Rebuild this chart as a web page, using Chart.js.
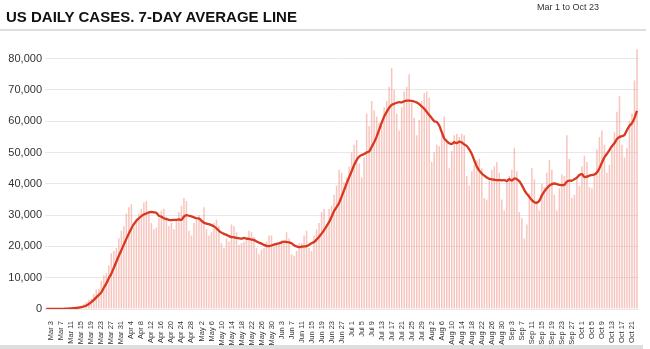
<!DOCTYPE html>
<html>
<head>
<meta charset="utf-8">
<script src="https://cdn.jsdelivr.net/npm/chart.js@4/dist/chart.umd.min.js"></script>
<style>
  html, body { margin: 0; padding: 0; background: #fff; }
  #wrap { position: relative; width: 650px; height: 349px; overflow: hidden; font-family: "Liberation Sans", Arial, sans-serif; }
  #title { position: absolute; left: 6px; top: 9px; font-size: 15px; line-height: 15px; font-weight: bold; color: #111; white-space: nowrap; }
  #range { position: absolute; left: 537px; top: 2px; font-size: 9px; line-height: 10px; color: #333; white-space: nowrap; }
  #rule { position: absolute; left: 0; top: 29px; width: 646px; height: 2px; background: #dedede; }
  #band { position: absolute; left: 0; top: 345px; width: 643px; height: 4px; background: #dedede; }
  canvas { position: absolute; left: 0; top: 0; }
</style>
</head>
<body>
<div id="wrap">
  <canvas id="c" width="650" height="349"></canvas>
  <div id="title">US DAILY CASES. 7-DAY AVERAGE LINE</div>
  <div id="range">Mar 1 to Oct 23</div>
  <div id="rule"></div>
  <div id="band"></div>
</div>
<script>
const dates = [
 "Mar 1","Mar 2","Mar 3","Mar 4","Mar 5","Mar 6","Mar 7","Mar 8","Mar 9","Mar 10","Mar 11","Mar 12","Mar 13","Mar 14","Mar 15","Mar 16","Mar 17","Mar 18","Mar 19","Mar 20","Mar 21","Mar 22","Mar 23","Mar 24","Mar 25","Mar 26","Mar 27","Mar 28","Mar 29","Mar 30","Mar 31",
 "Apr 1","Apr 2","Apr 3","Apr 4","Apr 5","Apr 6","Apr 7","Apr 8","Apr 9","Apr 10","Apr 11","Apr 12","Apr 13","Apr 14","Apr 15","Apr 16","Apr 17","Apr 18","Apr 19","Apr 20","Apr 21","Apr 22","Apr 23","Apr 24","Apr 25","Apr 26","Apr 27","Apr 28","Apr 29","Apr 30",
 "May 1","May 2","May 3","May 4","May 5","May 6","May 7","May 8","May 9","May 10","May 11","May 12","May 13","May 14","May 15","May 16","May 17","May 18","May 19","May 20","May 21","May 22","May 23","May 24","May 25","May 26","May 27","May 28","May 29","May 30","May 31",
 "Jun 1","Jun 2","Jun 3","Jun 4","Jun 5","Jun 6","Jun 7","Jun 8","Jun 9","Jun 10","Jun 11","Jun 12","Jun 13","Jun 14","Jun 15","Jun 16","Jun 17","Jun 18","Jun 19","Jun 20","Jun 21","Jun 22","Jun 23","Jun 24","Jun 25","Jun 26","Jun 27","Jun 28","Jun 29","Jun 30",
 "Jul 1","Jul 2","Jul 3","Jul 4","Jul 5","Jul 6","Jul 7","Jul 8","Jul 9","Jul 10","Jul 11","Jul 12","Jul 13","Jul 14","Jul 15","Jul 16","Jul 17","Jul 18","Jul 19","Jul 20","Jul 21","Jul 22","Jul 23","Jul 24","Jul 25","Jul 26","Jul 27","Jul 28","Jul 29","Jul 30","Jul 31",
 "Aug 1","Aug 2","Aug 3","Aug 4","Aug 5","Aug 6","Aug 7","Aug 8","Aug 9","Aug 10","Aug 11","Aug 12","Aug 13","Aug 14","Aug 15","Aug 16","Aug 17","Aug 18","Aug 19","Aug 20","Aug 21","Aug 22","Aug 23","Aug 24","Aug 25","Aug 26","Aug 27","Aug 28","Aug 29","Aug 30","Aug 31",
 "Sep 1","Sep 2","Sep 3","Sep 4","Sep 5","Sep 6","Sep 7","Sep 8","Sep 9","Sep 10","Sep 11","Sep 12","Sep 13","Sep 14","Sep 15","Sep 16","Sep 17","Sep 18","Sep 19","Sep 20","Sep 21","Sep 22","Sep 23","Sep 24","Sep 25","Sep 26","Sep 27","Sep 28","Sep 29","Sep 30",
 "Oct 1","Oct 2","Oct 3","Oct 4","Oct 5","Oct 6","Oct 7","Oct 8","Oct 9","Oct 10","Oct 11","Oct 12","Oct 13","Oct 14","Oct 15","Oct 16","Oct 17","Oct 18","Oct 19","Oct 20","Oct 21","Oct 22","Oct 23"
];

const dailyCases = [
 10,20,25,30,60,80,110,
 130,180,290,420,500,700,780,
 1000,1700,2200,2900,3300,4800,6200,
 6500,9000,10800,11500,14000,17800,18500,
 19500,22600,25000,26500,30500,32500,33500,
 26000,29000,30500,32000,34000,34500,30500,
 27500,25500,26000,29000,31500,32000,29500,
 26500,27500,25500,28500,31000,33000,35500,
 34500,25000,23500,27500,28500,30000,29000,
 32500,25500,23500,24500,27500,28500,26500,
 21000,19500,22500,21500,27000,26500,24500,
 20500,21000,21500,22500,25000,24500,23000,
 19500,17500,19000,19500,21500,23500,23500,
 20000,20500,20500,22000,21500,24500,22500,
 17500,17000,18500,21000,21000,23500,25000,
 19500,18500,23500,25500,27500,31000,32000,
 26500,32000,33000,36500,39500,44500,43500,
 40500,42000,45500,50000,52500,54000,46500,
 42000,48500,62500,58500,66500,63500,61500,
 59500,58500,64500,66500,71000,77000,70000,
 62500,57000,64500,69500,71000,75000,66000,
 61000,55500,60500,66500,69000,69500,67500,
 47000,50000,52500,52000,55500,61500,54500,
 45000,50500,55500,56000,55000,56000,55500,
 42500,39500,44000,46000,47500,48000,45000,
 35500,35000,41000,44500,45500,47000,43500,
 35000,31500,41000,42500,44500,51500,44000,
 31000,29000,22500,27000,37000,45000,41500,
 34500,31500,40000,39000,43500,47500,44500,
 36500,31500,38500,43000,42500,55500,48000,
 35500,36500,42500,39500,45500,49000,47000,
 39000,38500,43500,51000,55000,57000,52500,
 43500,46000,51000,56500,63000,68000,52500,
 48500,51500,60000,62500,73000,83000
];

const sevenDayAvg = [
 5,8,12,16,24,35,50,
 70,95,130,180,240,330,430,
 600,800,1100,1600,2200,2900,3700,
 4500,5300,6800,8200,9800,11300,13200,
 15100,17000,18800,20600,22400,24100,25700,
 27100,28200,29000,29700,30200,30500,30900,
 31000,30900,30700,29800,29500,29000,28700,
 28500,28400,28500,28500,28600,28500,29500,
 30000,29800,29600,29300,29000,28900,28200,
 27600,27300,27100,26800,26400,25800,25000,
 24400,24000,23700,23300,23000,22900,22700,
 22600,22500,22700,22500,22400,22200,22000,
 21600,21200,20900,20500,20200,20100,20300,
 20600,20800,21000,21300,21500,21400,21300,
 21000,20400,20000,19800,19900,20000,20100,
 20500,21000,21400,22200,23100,24100,25200,
 26500,27800,29500,31300,32600,33900,35900,
 38000,40100,42100,44000,46000,47600,48700,
 49200,49500,50000,50300,51800,53300,55100,
 57300,59500,61500,63000,64300,65200,65600,
 65900,66100,66000,66400,66600,66600,66500,
 66300,66000,65500,64700,64000,63000,62000,
 61000,60000,59800,58600,56500,54500,53600,
 53000,52700,53300,53000,53500,53200,52600,
 52100,51000,49500,47500,45500,44200,43300,
 42600,42000,41600,41400,41300,41200,41200,
 41100,41200,40900,41500,41000,41700,41500,
 40800,39600,38000,36800,35800,34800,34100,
 34000,34600,36300,37600,38600,39400,39900,
 40100,39900,39700,39600,39700,40700,41000,
 41000,41500,42000,42800,43100,42200,42300,
 42600,42800,43000,43600,45000,46800,48500,
 49600,50800,52000,53000,54300,55000,55200,
 55600,57200,58500,59400,61000,63300
];

const yTickValues = [0, 10000, 20000, 30000, 40000, 50000, 60000, 70000, 80000];
const yMax = 85000;

new Chart(document.getElementById('c'), {
  type: 'bar',
  data: {
    labels: dates,
    datasets: [
      {
        type: 'line',
        label: '7-day average',
        data: sevenDayAvg,
        borderColor: '#d8381f',
        borderWidth: 2.3,
        pointRadius: 0,
        tension: 0.25,
        fill: false
      },
      {
        type: 'bar',
        label: 'Daily cases',
        data: dailyCases,
        backgroundColor: 'rgba(240,140,125,0.5)',
        barPercentage: 0.6,
        categoryPercentage: 1.0
      }
    ]
  },
  options: {
    responsive: false,
    animation: false,
    layout: { padding: { top: 43, right: 10, left: 0, bottom: 0 } },
    plugins: { legend: { display: false }, tooltip: { enabled: false } },
    scales: {
      x: {
        offset: true,
        grid: { display: false },
        border: { display: false },
        afterFit: (s) => { s.height = 40; },
        ticks: {
          autoSkip: false,
          minRotation: 90,
          maxRotation: 90,
          padding: 4,
          color: '#333',
          font: { family: 'Liberation Sans', size: 7.5 },
          callback: function (v, i) { return (i - 2) % 4 === 0 ? this.getLabelForValue(v) : ''; }
        }
      },
      y: {
        type: 'linear',
        min: 0,
        max: yMax,
        afterFit: (s) => { s.width = 45; },
        afterBuildTicks: (s) => { s.ticks = yTickValues.map(v => ({ value: v })); },
        grid: { color: '#e8e8e8', drawTicks: false },
        border: { display: false },
        ticks: {
          autoSkip: false,
          padding: 3,
          color: '#333',
          font: { family: 'Liberation Sans', size: 11 },
          callback: (v) => String(v).replace(/\B(?=(\d{3})+(?!\d))/g, ',')
        }
      }
    }
  }
});
</script>
</body>
</html>
